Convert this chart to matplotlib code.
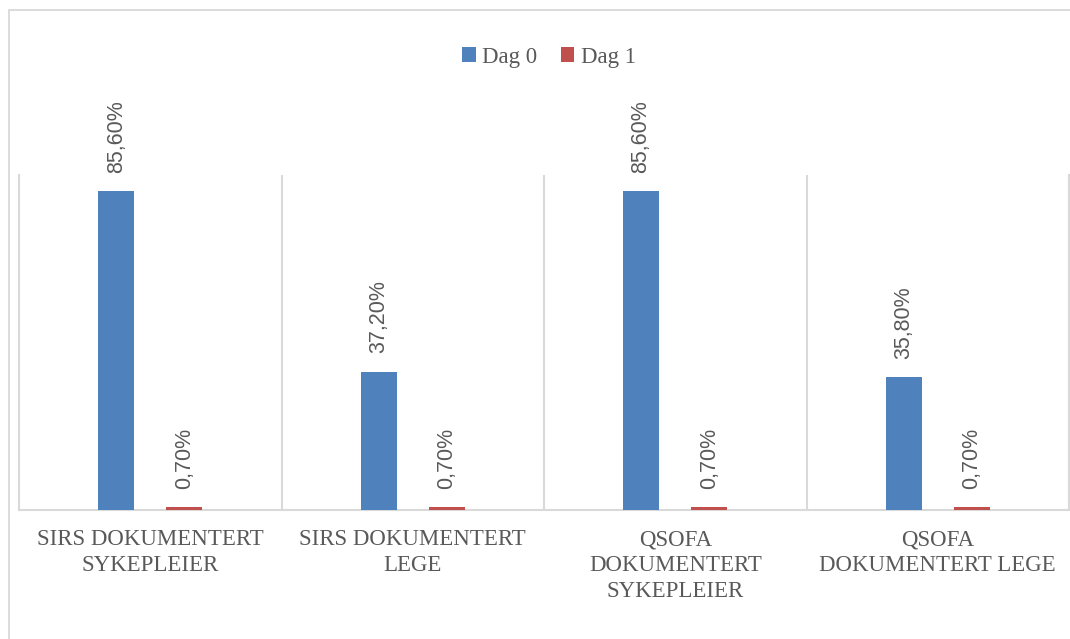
import numpy as np
import matplotlib.pyplot as plt
from matplotlib.patches import Rectangle

categories = ["SIRS DOKUMENTERT\nSYKEPLEIER", "SIRS DOKUMENTERT\nLEGE",
              "QSOFA\nDOKUMENTERT\nSYKEPLEIER", "QSOFA\nDOKUMENTERT LEGE"]
dag0 = [85.6, 37.2, 85.6, 35.8]
dag1 = [0.7, 0.7, 0.7, 0.7]
series_names = ["Dag 0", "Dag 1"]

BLUE = "#4F81BD"
RED = "#C0504D"
GRID = "#D9D9D9"
TEXT = "#595959"


def fmt(v):
    return ("%.2f%%" % v).replace(".", ",")


def add_labels(ax, bars, values):
    for b, v in zip(bars, values):
        ax.annotate(fmt(v), (b.get_x() + b.get_width() / 2, b.get_height()),
                    xytext=(0, 13), textcoords="offset points",
                    rotation=90, ha="center", va="bottom",
                    fontsize=15.5, color=TEXT, family="Liberation Sans")


fig = plt.figure(figsize=(10.7, 6.39), dpi=100)
ax = fig.add_axes([19 / 1070, 1 - 510 / 639, 1050 / 1070, 335 / 639])

x = np.arange(len(categories))
off = 0.13
w = 0.137
b0 = ax.bar(x - off, dag0, w, color=BLUE, label=series_names[0], zorder=3)
b1 = ax.bar(x + off, dag1, w, color=RED, label=series_names[1], zorder=3)
add_labels(ax, b0, dag0)
add_labels(ax, b1, dag1)

ax.set_xlim(-0.5, len(categories) - 0.5)
ax.set_ylim(0, 90)
ax.set_yticks([])
ax.set_xticks(x)
ax.set_xticklabels(categories, fontsize=16.5, color=TEXT, family="Liberation Serif",
                   linespacing=1.3)
ax.tick_params(axis="x", length=0, pad=14)
ax.set_xticks(np.arange(0.5, len(categories) - 0.5), minor=True)
ax.tick_params(axis="x", which="minor", length=0)
ax.grid(True, axis="x", which="minor", color=GRID, lw=1.5)
ax.spines["top"].set_visible(False)
for s in ["left", "right", "bottom"]:
    ax.spines[s].set_color(GRID)
    ax.spines[s].set_linewidth(1.5)

leg = fig.legend(loc="center", bbox_to_anchor=(549 / 1070, 1 - 57 / 639), ncol=2,
                 frameon=False, prop={"family": "Liberation Serif", "size": 16.5},
                 handlelength=0.58, handleheight=0.58, handletextpad=0.3,
                 columnspacing=1.0)
for t in leg.get_texts():
    t.set_color(TEXT)

# outer chart border (cropped at right and bottom)
fig.patches.append(Rectangle((9 / 1070, -0.1), 1.2, 1.1 - 10 / 639, transform=fig.transFigure,
                             fill=False, ec=GRID, lw=1.3))

fig.savefig("out.png", dpi=100)
